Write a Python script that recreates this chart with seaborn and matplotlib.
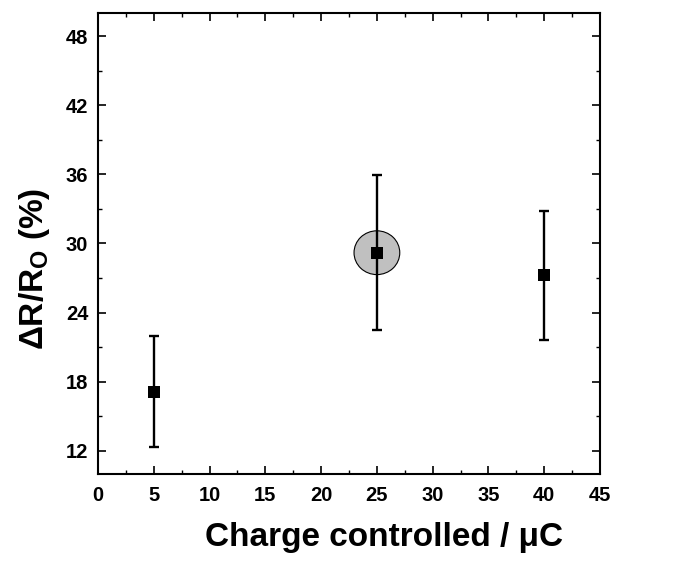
import matplotlib
matplotlib.use("Agg")
import matplotlib.pyplot as plt
from matplotlib.patches import Ellipse
from matplotlib.ticker import MultipleLocator
import seaborn as sns
import pandas as pd
import numpy as np

charge = [5, 25, 40]
dr_ratio = [17.15, 29.2, 27.3]
err_low = [12.35, 22.5, 21.65]
err_high = [21.95, 35.95, 32.85]

sns.set_theme(style="ticks")
plt.rcParams['font.family'] = ['Liberation Sans', 'DejaVu Sans']
plt.rcParams['mathtext.default'] = 'regular'
plt.rcParams['text.color'] = 'black'
plt.rcParams['axes.labelcolor'] = 'black'
plt.rcParams['xtick.color'] = 'black'
plt.rcParams['ytick.color'] = 'black'

df = pd.DataFrame({"charge": charge, "ratio": dr_ratio})

fig = plt.figure(figsize=(6.83, 5.62), dpi=100)
ax = fig.add_axes([0.1435, 0.1566, 0.735, 0.8203])

# highlight ellipse around the maximum
imax = int(np.argmax(dr_ratio))
ax.add_patch(Ellipse((charge[imax], dr_ratio[imax]), width=4.1, height=3.8,
                     facecolor='#c0c0c0', edgecolor='black', linewidth=0.8, zorder=1))

yerr = np.array([np.array(dr_ratio) - np.array(err_low),
                 np.array(err_high) - np.array(dr_ratio)])
ax.errorbar(charge, dr_ratio, yerr=yerr, fmt='none', ecolor='black',
            elinewidth=1.7, capsize=3.5, capthick=1.7, zorder=2)
sns.scatterplot(data=df, x="charge", y="ratio", marker='s', s=85, color='black',
                edgecolor='black', linewidth=0, ax=ax, zorder=3)

ax.set_xlim(0, 45)
ax.set_ylim(10, 50)
ax.xaxis.set_major_locator(MultipleLocator(5))
ax.xaxis.set_minor_locator(MultipleLocator(2.5))
ax.set_yticks([12, 18, 24, 30, 36, 42, 48])
ax.yaxis.set_minor_locator(MultipleLocator(3))
ax.tick_params(which='major', direction='in', length=6, width=1.2,
               top=True, right=True, labelsize=14.5, pad=7)
ax.tick_params(axis='x', which='major', pad=9)
ax.tick_params(which='minor', direction='in', length=3, width=1,
               top=True, right=True)
for lab in ax.get_xticklabels() + ax.get_yticklabels():
    lab.set_fontweight('bold')
for sp in ax.spines.values():
    sp.set_linewidth(1.5)
    sp.set_color('black')

ax.set_xlabel("Charge controlled / μC", fontsize=24, fontweight='bold')
ax.set_ylabel("ΔR/R$_\\mathregular{O}$ (%)", fontsize=24, fontweight='bold')
ax.xaxis.set_label_coords(0.57, -0.104)
ax.yaxis.set_label_coords(-0.091, 0.445)

fig.savefig("out.png", dpi=100)
